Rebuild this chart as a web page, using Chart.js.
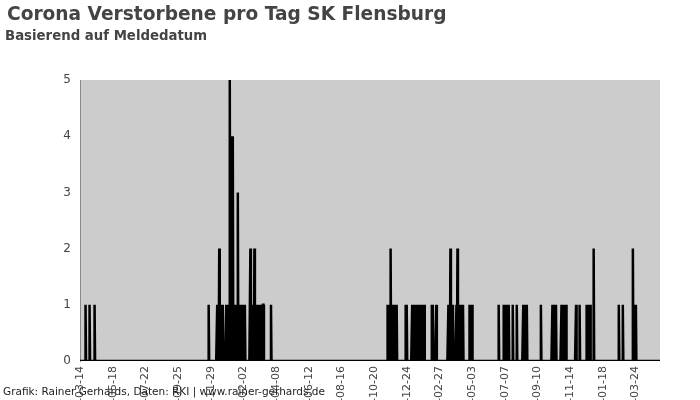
<!DOCTYPE html>
<html>
<head>
<meta charset="utf-8">
<script src="https://cdn.jsdelivr.net/npm/chart.js@4.4.1/dist/chart.umd.min.js"></script>
<style>
  html, body { margin: 0; padding: 0; background: #fff; }
</style>
</head>
<body>
<canvas id="chart" width="700" height="400"></canvas>
<script>
const TITLE = "Corona Verstorbene pro Tag SK Flensburg";
const SUBTITLE = "Basierend auf Meldedatum";
const FOOTER = "Grafik: Rainer Gerhards, Daten: RKI | www.rainer-gerhards.de";

const firstDay = "2020-03-14";
const lastDay = "2023-05-12";

// beschriftete Tage auf der x-Achse
const tickDates = [
    "2020-03-14", "2020-05-18", "2020-07-22", "2020-09-25", "2020-11-29",
    "2021-02-02", "2021-04-08", "2021-06-12", "2021-08-16", "2021-10-20",
    "2021-12-24", "2022-02-27", "2022-05-03", "2022-07-07", "2022-09-10",
    "2022-11-14", "2023-01-18", "2023-03-24"
];

// Tage mit Todesfaellen (alle anderen Tage = 0)
const deathDates = [
    "2020-03-25", "2020-04-02", "2020-04-12",
    "2020-11-25",
    "2020-12-12", "2020-12-14", "2020-12-16", "2020-12-18", "2020-12-20", "2020-12-23",
    "2020-12-30", "2021-01-01", "2021-01-03", "2021-01-06", "2021-01-08", "2021-01-10", "2021-01-12",
    "2021-01-14", "2021-01-16", "2021-01-18", "2021-01-20", "2021-01-22", "2021-01-24", "2021-01-26",
    "2021-01-28", "2021-01-30", "2021-02-01", "2021-02-03", "2021-02-05",
    "2021-02-16", "2021-02-18", "2021-02-20", "2021-02-22", "2021-02-24",
    "2021-02-26", "2021-02-28", "2021-03-02", "2021-03-04", "2021-03-06",
    "2021-03-11", "2021-03-13", "2021-03-14",
    "2021-03-29",
    "2021-11-16", "2021-11-18", "2021-11-20", "2021-11-22", "2021-11-24",
    "2021-11-26", "2021-11-28", "2021-11-30", "2021-12-02", "2021-12-04",
    "2021-12-22", "2021-12-24",
    "2022-01-04", "2022-01-06", "2022-01-08", "2022-01-10", "2022-01-12", "2022-01-14", "2022-01-16",
    "2022-01-18", "2022-01-20", "2022-01-22", "2022-01-24", "2022-01-26", "2022-01-28",
    "2022-02-12", "2022-02-14", "2022-02-21",
    "2022-03-17", "2022-03-19", "2022-03-21", "2022-03-23", "2022-03-26",
    "2022-04-02", "2022-04-04", "2022-04-06", "2022-04-08", "2022-04-10", "2022-04-12", "2022-04-15",
    "2022-04-28", "2022-04-30", "2022-05-03",
    "2022-06-25",
    "2022-07-05", "2022-07-07", "2022-07-09", "2022-07-11", "2022-07-13", "2022-07-15",
    "2022-07-23", "2022-07-31",
    "2022-08-13", "2022-08-15", "2022-08-17", "2022-08-20",
    "2022-09-17",
    "2022-10-10", "2022-10-11", "2022-10-13", "2022-10-15", "2022-10-17",
    "2022-10-28", "2022-10-29", "2022-10-31", "2022-11-02", "2022-11-04", "2022-11-06",
    "2022-11-26", "2022-12-03",
    "2022-12-17", "2022-12-19", "2022-12-21", "2022-12-24",
    "2022-12-31",
    "2023-02-19", "2023-02-27",
    "2023-03-19", "2023-03-22", "2023-03-25"
];
const deathCounts = [
    1, 1, 1,
    1,
    1, 1, 2, 1, 1, 1,
    1, 1, 1, 5, 1, 4, 4,
    1, 1, 1, 1, 3, 1, 1,
    1, 1, 1, 1, 1,
    2, 1, 1, 1, 2,
    1, 1, 1, 1, 1,
    1, 1, 1,
    1,
    1, 1, 1, 2, 1,
    1, 1, 1, 1, 1,
    1, 1,
    1, 1, 1, 1, 1, 1, 1,
    1, 1, 1, 1, 1, 1,
    1, 1, 1,
    1, 1, 2, 1, 1,
    1, 2, 1, 1, 1, 1, 1,
    1, 1, 1,
    1,
    1, 1, 1, 1, 1, 1,
    1, 1,
    1, 1, 1, 1,
    1,
    1, 1, 1, 1, 1,
    1, 1, 1, 1, 1, 1,
    1, 1,
    1, 1, 1, 1,
    2,
    1, 1,
    2, 1, 1
];

// alle Tage von firstDay bis lastDay als Kategorien
let labels = [];
for (let d = new Date(firstDay + "T00:00:00Z"); d <= new Date(lastDay + "T00:00:00Z"); d.setUTCDate(d.getUTCDate() + 1)) {
    labels.push(d.toISOString().slice(0, 10));
}
const values = labels.map(day => {
    const i = deathDates.indexOf(day);
    return i >= 0 ? deathCounts[i] : 0;
});

const plotBackground = {
    id: "plotBackground",
    beforeDraw(chart) {
        const { ctx, chartArea: a } = chart;
        ctx.save();
        ctx.fillStyle = "#cccccc";
        ctx.fillRect(a.left, a.top, a.right - a.left, a.bottom - a.top);
        ctx.restore();
    }
};

const texts = {
    id: "texts",
    afterDraw(chart) {
        const ctx = chart.ctx;
        ctx.save();
        ctx.textAlign = "left";
        ctx.textBaseline = "alphabetic";
        ctx.fillStyle = "#444444";
        ctx.font = "bold 18.6px 'DejaVu Sans'";
        ctx.fillText(TITLE, 7, 20);
        ctx.font = "bold 13.3px 'DejaVu Sans'";
        ctx.fillText(SUBTITLE, 5, 40);
        ctx.fillStyle = "#222222";
        ctx.font = "10.5px 'DejaVu Sans'";
        ctx.fillText(FOOTER, 3, 395);
        ctx.restore();
    }
};

new Chart(document.getElementById("chart"), {
    type: "line",
    data: {
        labels,
        datasets: [{
            label: "Verstorbene",
            data: values,
            borderColor: "#000000",
            borderWidth: 2.5,
            pointRadius: 0,
            tension: 0,
            fill: false
        }]
    },
    options: {
        responsive: false,
        animation: false,
        layout: { padding: { top: 80, left: 0, right: 40, bottom: 0 } },
        plugins: {
            legend: { display: false },
            tooltip: { enabled: false }
        },
        scales: {
            x: {
                type: "category",
                offset: false,
                grid: { display: false, drawTicks: false },
                border: { display: false },
                afterBuildTicks: scale => {
                    scale.ticks = scale.ticks.filter(t => tickDates.includes(labels[t.value]));
                },
                afterFit: scale => { scale.height = 39; },
                ticks: {
                    autoSkip: false,
                    minRotation: 90,
                    maxRotation: 90,
                    padding: 5,
                    color: "#444444",
                    font: { family: "'DejaVu Sans'", size: 11 }
                }
            },
            y: {
                min: 0,
                max: 5,
                grid: { display: false, drawTicks: false },
                border: { display: true, color: "#888888", width: 1 },
                afterFit: scale => { scale.width = 80; },
                ticks: {
                    stepSize: 1,
                    padding: 9,
                    color: "#444444",
                    font: { family: "'DejaVu Sans'", size: 12 }
                }
            }
        }
    },
    plugins: [plotBackground, texts]
});
</script>
</body>
</html>
